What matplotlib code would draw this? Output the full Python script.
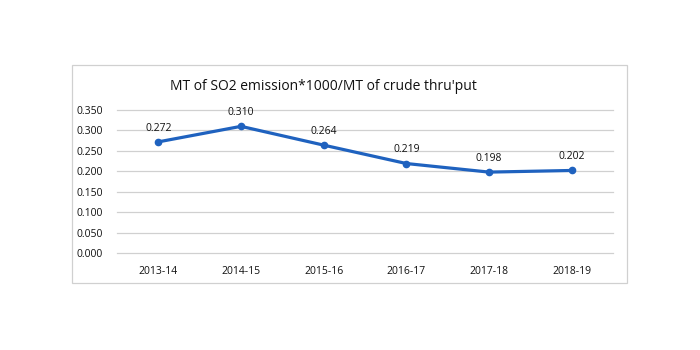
import matplotlib.pyplot as plt
from matplotlib.patches import Rectangle

years = ["2013-14", "2014-15", "2015-16", "2016-17", "2017-18", "2018-19"]
so2 = [0.272, 0.310, 0.264, 0.219, 0.198, 0.202]
yticks = [0.0, 0.05, 0.10, 0.15, 0.20, 0.25, 0.30, 0.35]

plt.rcParams['font.family'] = ['Open Sans', 'DejaVu Sans']
W, H = 700, 350
fig = plt.figure(figsize=(7, 3.5), dpi=100)
fig.patches.append(Rectangle((72/W, 1-283/H), 555/W, 218/H, transform=fig.transFigure,
                             fill=False, ec="#d0d0d0", lw=0.9))
ax = fig.add_axes([117/W, 1-253/H, 496/W, 143/H])
x = list(range(len(years)))
ax.plot(x, so2, color="#1f62bf", lw=2.3, marker="o", ms=4.5, solid_capstyle="round")
for xi, v in zip(x, so2):
    ax.annotate(f"{v:.3f}", (xi, v), xytext=(0, 6), textcoords="offset points",
                ha="center", va="bottom", fontsize=7.5, color="#111111")
ax.set_xlim(-0.5, 5.5); ax.set_ylim(0, 0.35)
ax.set_yticks(yticks); ax.set_yticklabels([f"{t:.3f}" for t in yticks])
ax.set_xticks(x); ax.set_xticklabels(years)
ax.grid(axis="y", color="#d0d0d0", lw=0.9); ax.set_axisbelow(True)
for g in ax.get_ygridlines():
    g.set_clip_on(False)
for s in ax.spines.values(): s.set_visible(False)
ax.tick_params(length=0, labelsize=7.5, colors="#111111")
ax.tick_params(axis="x", pad=9); ax.tick_params(axis="y", pad=10)
fig.text(323/W, 1-86/H, "MT of SO2 emission*1000/MT of crude thru'put", ha="center", va="center",
         fontsize=10, color="#111111")
fig.savefig("out.png", dpi=100)
